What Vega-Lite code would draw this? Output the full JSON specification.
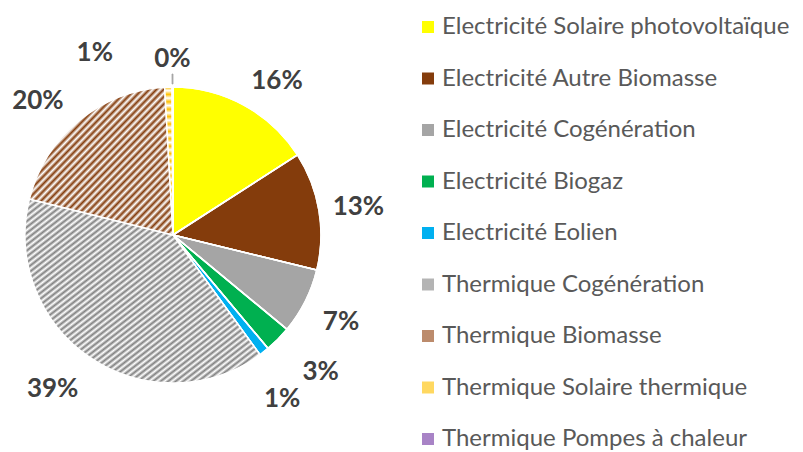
{
  "$schema": "https://vega.github.io/schema/vega-lite/v6.json",
  "width": 346,
  "height": 470,
  "autosize": {"type": "none"},
  "padding": {"left": 0, "top": 0, "right": 457, "bottom": 0},
  "background": "white",
  "view": {"stroke": null},
  "config": {
    "legend": {
      "orient": "none",
      "legendX": 416,
      "legendY": 15,
      "padding": 0,
      "symbolType": "square",
      "symbolSize": 144,
      "symbolStrokeWidth": 0,
      "labelFont": "Lato",
      "labelFontSize": 24,
      "labelColor": "#595959",
      "labelOffset": 2,
      "labelLimit": 500,
      "rowPadding": 27.5
    }
  },
  "data": {
    "values": [
      {"cat": "Electricité Solaire photovoltaïque", "value": 15.9, "label": "16%", "order": 1},
      {"cat": "Electricité Autre Biomasse", "value": 12.9, "label": "13%", "order": 2},
      {"cat": "Electricité Cogénération", "value": 7.2, "label": "7%", "order": 3},
      {"cat": "Electricité Biogaz", "value": 2.9, "label": "3%", "order": 4},
      {"cat": "Electricité Eolien", "value": 1.1, "label": "1%", "order": 5},
      {"cat": "Thermique Cogénération", "value": 38.9, "label": "39%", "order": 6},
      {"cat": "Thermique Biomasse", "value": 20.2, "label": "20%", "order": 7},
      {"cat": "Thermique Solaire thermique", "value": 0.8, "label": "1%", "order": 8},
      {"cat": "Thermique Pompes à chaleur", "value": 0.1, "label": "0%", "order": 9}
    ]
  },
  "encoding": {
    "theta": {"field": "value", "type": "quantitative", "stack": true},
    "order": {"field": "order", "type": "quantitative"}
  },
  "layer": [
    {
      "mark": {"type": "arc", "outerRadius": 148, "stroke": "white", "strokeWidth": 1.5},
      "encoding": {
        "color": {
          "field": "cat",
          "type": "nominal",
          "title": null,
          "scale": {
            "domain": ["Electricité Solaire photovoltaïque", "Electricité Autre Biomasse", "Electricité Cogénération", "Electricité Biogaz", "Electricité Eolien", "Thermique Cogénération", "Thermique Biomasse", "Thermique Solaire thermique", "Thermique Pompes à chaleur"],
            "range": ["#FFFF00", "#843C0C", "#A5A5A5", "#00B050", "#00B0F0", "#B4B4B4", "#BC8B6C", "#FFD860", "#A883C6"]
          }
        }
      }
    },
    {
      "mark": {"type": "arc", "outerRadius": 148, "stroke": "white", "strokeWidth": 1.5},
      "encoding": {
        "fill": {
          "condition": [
            {"test": "datum.order == 6", "value": {"gradient": "linear", "x1": 0, "y1": 0, "x2": 1, "y2": 1, "stops": [
                {"offset": 0, "color": "#808080"}, {"offset": 0.008, "color": "#ffffff"}, {"offset": 0.016, "color": "#808080"}, {"offset": 0.024, "color": "#ffffff"}, {"offset": 0.032, "color": "#808080"}, {"offset": 0.04, "color": "#ffffff"}, {"offset": 0.048, "color": "#808080"}, {"offset": 0.056, "color": "#ffffff"}, {"offset": 0.064, "color": "#808080"}, {"offset": 0.072, "color": "#ffffff"},
                {"offset": 0.08, "color": "#808080"}, {"offset": 0.088, "color": "#ffffff"}, {"offset": 0.096, "color": "#808080"}, {"offset": 0.104, "color": "#ffffff"}, {"offset": 0.112, "color": "#808080"}, {"offset": 0.12, "color": "#ffffff"}, {"offset": 0.128, "color": "#808080"}, {"offset": 0.136, "color": "#ffffff"}, {"offset": 0.144, "color": "#808080"}, {"offset": 0.152, "color": "#ffffff"},
                {"offset": 0.16, "color": "#808080"}, {"offset": 0.168, "color": "#ffffff"}, {"offset": 0.176, "color": "#808080"}, {"offset": 0.184, "color": "#ffffff"}, {"offset": 0.192, "color": "#808080"}, {"offset": 0.2, "color": "#ffffff"}, {"offset": 0.208, "color": "#808080"}, {"offset": 0.216, "color": "#ffffff"}, {"offset": 0.224, "color": "#808080"}, {"offset": 0.232, "color": "#ffffff"},
                {"offset": 0.24, "color": "#808080"}, {"offset": 0.248, "color": "#ffffff"}, {"offset": 0.256, "color": "#808080"}, {"offset": 0.264, "color": "#ffffff"}, {"offset": 0.272, "color": "#808080"}, {"offset": 0.28, "color": "#ffffff"}, {"offset": 0.288, "color": "#808080"}, {"offset": 0.296, "color": "#ffffff"}, {"offset": 0.304, "color": "#808080"}, {"offset": 0.312, "color": "#ffffff"},
                {"offset": 0.32, "color": "#808080"}, {"offset": 0.328, "color": "#ffffff"}, {"offset": 0.336, "color": "#808080"}, {"offset": 0.344, "color": "#ffffff"}, {"offset": 0.352, "color": "#808080"}, {"offset": 0.36, "color": "#ffffff"}, {"offset": 0.368, "color": "#808080"}, {"offset": 0.376, "color": "#ffffff"}, {"offset": 0.384, "color": "#808080"}, {"offset": 0.392, "color": "#ffffff"},
                {"offset": 0.4, "color": "#808080"}, {"offset": 0.408, "color": "#ffffff"}, {"offset": 0.416, "color": "#808080"}, {"offset": 0.424, "color": "#ffffff"}, {"offset": 0.432, "color": "#808080"}, {"offset": 0.44, "color": "#ffffff"}, {"offset": 0.448, "color": "#808080"}, {"offset": 0.456, "color": "#ffffff"}, {"offset": 0.464, "color": "#808080"}, {"offset": 0.472, "color": "#ffffff"},
                {"offset": 0.48, "color": "#808080"}, {"offset": 0.488, "color": "#ffffff"}, {"offset": 0.496, "color": "#808080"}, {"offset": 0.504, "color": "#ffffff"}, {"offset": 0.512, "color": "#808080"}, {"offset": 0.52, "color": "#ffffff"}, {"offset": 0.528, "color": "#808080"}, {"offset": 0.536, "color": "#ffffff"}, {"offset": 0.544, "color": "#808080"}, {"offset": 0.552, "color": "#ffffff"},
                {"offset": 0.56, "color": "#808080"}, {"offset": 0.568, "color": "#ffffff"}, {"offset": 0.576, "color": "#808080"}, {"offset": 0.584, "color": "#ffffff"}, {"offset": 0.592, "color": "#808080"}, {"offset": 0.6, "color": "#ffffff"}, {"offset": 0.608, "color": "#808080"}, {"offset": 0.616, "color": "#ffffff"}, {"offset": 0.624, "color": "#808080"}, {"offset": 0.632, "color": "#ffffff"},
                {"offset": 0.64, "color": "#808080"}, {"offset": 0.648, "color": "#ffffff"}, {"offset": 0.656, "color": "#808080"}, {"offset": 0.664, "color": "#ffffff"}, {"offset": 0.672, "color": "#808080"}, {"offset": 0.68, "color": "#ffffff"}, {"offset": 0.688, "color": "#808080"}, {"offset": 0.696, "color": "#ffffff"}, {"offset": 0.704, "color": "#808080"}, {"offset": 0.712, "color": "#ffffff"},
                {"offset": 0.72, "color": "#808080"}, {"offset": 0.728, "color": "#ffffff"}, {"offset": 0.736, "color": "#808080"}, {"offset": 0.744, "color": "#ffffff"}, {"offset": 0.752, "color": "#808080"}, {"offset": 0.76, "color": "#ffffff"}, {"offset": 0.768, "color": "#808080"}, {"offset": 0.776, "color": "#ffffff"}, {"offset": 0.784, "color": "#808080"}, {"offset": 0.792, "color": "#ffffff"},
                {"offset": 0.8, "color": "#808080"}, {"offset": 0.808, "color": "#ffffff"}, {"offset": 0.816, "color": "#808080"}, {"offset": 0.824, "color": "#ffffff"}, {"offset": 0.832, "color": "#808080"}, {"offset": 0.84, "color": "#ffffff"}, {"offset": 0.848, "color": "#808080"}, {"offset": 0.856, "color": "#ffffff"}, {"offset": 0.864, "color": "#808080"}, {"offset": 0.872, "color": "#ffffff"},
                {"offset": 0.88, "color": "#808080"}, {"offset": 0.888, "color": "#ffffff"}, {"offset": 0.896, "color": "#808080"}, {"offset": 0.904, "color": "#ffffff"}, {"offset": 0.912, "color": "#808080"}, {"offset": 0.92, "color": "#ffffff"}, {"offset": 0.928, "color": "#808080"}, {"offset": 0.936, "color": "#ffffff"}, {"offset": 0.944, "color": "#808080"}, {"offset": 0.952, "color": "#ffffff"},
                {"offset": 0.96, "color": "#808080"}, {"offset": 0.968, "color": "#ffffff"}, {"offset": 0.976, "color": "#808080"}, {"offset": 0.984, "color": "#ffffff"}, {"offset": 0.992, "color": "#808080"}, {"offset": 1, "color": "#ffffff"}
              ]}},
            {"test": "datum.order == 7", "value": {"gradient": "linear", "x1": 0, "y1": 0, "x2": 1, "y2": 1, "stops": [
                {"offset": 0, "color": "#843C0C"}, {"offset": 0.0125, "color": "#ffffff"}, {"offset": 0.025, "color": "#843C0C"}, {"offset": 0.0375, "color": "#ffffff"}, {"offset": 0.05, "color": "#843C0C"}, {"offset": 0.0625, "color": "#ffffff"}, {"offset": 0.075, "color": "#843C0C"}, {"offset": 0.0875, "color": "#ffffff"},
                {"offset": 0.1, "color": "#843C0C"}, {"offset": 0.1125, "color": "#ffffff"}, {"offset": 0.125, "color": "#843C0C"}, {"offset": 0.1375, "color": "#ffffff"}, {"offset": 0.15, "color": "#843C0C"}, {"offset": 0.1625, "color": "#ffffff"}, {"offset": 0.175, "color": "#843C0C"}, {"offset": 0.1875, "color": "#ffffff"},
                {"offset": 0.2, "color": "#843C0C"}, {"offset": 0.2125, "color": "#ffffff"}, {"offset": 0.225, "color": "#843C0C"}, {"offset": 0.2375, "color": "#ffffff"}, {"offset": 0.25, "color": "#843C0C"}, {"offset": 0.2625, "color": "#ffffff"}, {"offset": 0.275, "color": "#843C0C"}, {"offset": 0.2875, "color": "#ffffff"},
                {"offset": 0.3, "color": "#843C0C"}, {"offset": 0.3125, "color": "#ffffff"}, {"offset": 0.325, "color": "#843C0C"}, {"offset": 0.3375, "color": "#ffffff"}, {"offset": 0.35, "color": "#843C0C"}, {"offset": 0.3625, "color": "#ffffff"}, {"offset": 0.375, "color": "#843C0C"}, {"offset": 0.3875, "color": "#ffffff"},
                {"offset": 0.4, "color": "#843C0C"}, {"offset": 0.4125, "color": "#ffffff"}, {"offset": 0.425, "color": "#843C0C"}, {"offset": 0.4375, "color": "#ffffff"}, {"offset": 0.45, "color": "#843C0C"}, {"offset": 0.4625, "color": "#ffffff"}, {"offset": 0.475, "color": "#843C0C"}, {"offset": 0.4875, "color": "#ffffff"},
                {"offset": 0.5, "color": "#843C0C"}, {"offset": 0.5125, "color": "#ffffff"}, {"offset": 0.525, "color": "#843C0C"}, {"offset": 0.5375, "color": "#ffffff"}, {"offset": 0.55, "color": "#843C0C"}, {"offset": 0.5625, "color": "#ffffff"}, {"offset": 0.575, "color": "#843C0C"}, {"offset": 0.5875, "color": "#ffffff"},
                {"offset": 0.6, "color": "#843C0C"}, {"offset": 0.6125, "color": "#ffffff"}, {"offset": 0.625, "color": "#843C0C"}, {"offset": 0.6375, "color": "#ffffff"}, {"offset": 0.65, "color": "#843C0C"}, {"offset": 0.6625, "color": "#ffffff"}, {"offset": 0.675, "color": "#843C0C"}, {"offset": 0.6875, "color": "#ffffff"},
                {"offset": 0.7, "color": "#843C0C"}, {"offset": 0.7125, "color": "#ffffff"}, {"offset": 0.725, "color": "#843C0C"}, {"offset": 0.7375, "color": "#ffffff"}, {"offset": 0.75, "color": "#843C0C"}, {"offset": 0.7625, "color": "#ffffff"}, {"offset": 0.775, "color": "#843C0C"}, {"offset": 0.7875, "color": "#ffffff"},
                {"offset": 0.8, "color": "#843C0C"}, {"offset": 0.8125, "color": "#ffffff"}, {"offset": 0.825, "color": "#843C0C"}, {"offset": 0.8375, "color": "#ffffff"}, {"offset": 0.85, "color": "#843C0C"}, {"offset": 0.8625, "color": "#ffffff"}, {"offset": 0.875, "color": "#843C0C"}, {"offset": 0.8875, "color": "#ffffff"},
                {"offset": 0.9, "color": "#843C0C"}, {"offset": 0.9125, "color": "#ffffff"}, {"offset": 0.925, "color": "#843C0C"}, {"offset": 0.9375, "color": "#ffffff"}, {"offset": 0.95, "color": "#843C0C"}, {"offset": 0.9625, "color": "#ffffff"}, {"offset": 0.975, "color": "#843C0C"}, {"offset": 0.9875, "color": "#ffffff"},
                {"offset": 1, "color": "#843C0C"}
              ]}},
            {"test": "datum.order == 8", "value": {"gradient": "linear", "x1": 0, "y1": 0, "x2": 0, "y2": 1, "stops": [
                {"offset": 0, "color": "#FFC000"}, {"offset": 0.025, "color": "#ffffff"}, {"offset": 0.05, "color": "#FFC000"}, {"offset": 0.075, "color": "#ffffff"}, {"offset": 0.1, "color": "#FFC000"}, {"offset": 0.125, "color": "#ffffff"}, {"offset": 0.15, "color": "#FFC000"}, {"offset": 0.175, "color": "#ffffff"},
                {"offset": 0.2, "color": "#FFC000"}, {"offset": 0.225, "color": "#ffffff"}, {"offset": 0.25, "color": "#FFC000"}, {"offset": 0.275, "color": "#ffffff"}, {"offset": 0.3, "color": "#FFC000"}, {"offset": 0.325, "color": "#ffffff"}, {"offset": 0.35, "color": "#FFC000"}, {"offset": 0.375, "color": "#ffffff"},
                {"offset": 0.4, "color": "#FFC000"}, {"offset": 0.425, "color": "#ffffff"}, {"offset": 0.45, "color": "#FFC000"}, {"offset": 0.475, "color": "#ffffff"}, {"offset": 0.5, "color": "#FFC000"}, {"offset": 0.525, "color": "#ffffff"}, {"offset": 0.55, "color": "#FFC000"}, {"offset": 0.575, "color": "#ffffff"},
                {"offset": 0.6, "color": "#FFC000"}, {"offset": 0.625, "color": "#ffffff"}, {"offset": 0.65, "color": "#FFC000"}, {"offset": 0.675, "color": "#ffffff"}, {"offset": 0.7, "color": "#FFC000"}, {"offset": 0.725, "color": "#ffffff"}, {"offset": 0.75, "color": "#FFC000"}, {"offset": 0.775, "color": "#ffffff"},
                {"offset": 0.8, "color": "#FFC000"}, {"offset": 0.825, "color": "#ffffff"}, {"offset": 0.85, "color": "#FFC000"}, {"offset": 0.875, "color": "#ffffff"}, {"offset": 0.9, "color": "#FFC000"}, {"offset": 0.925, "color": "#ffffff"}, {"offset": 0.95, "color": "#FFC000"}, {"offset": 0.975, "color": "#ffffff"},
                {"offset": 1, "color": "#FFC000"}
              ]}},
            {"test": "datum.order == 9", "value": {"gradient": "linear", "x1": 0, "y1": 0, "x2": 1, "y2": 1, "stops": [
                {"offset": 0, "color": "#7030A0"}, {"offset": 0.125, "color": "#ffffff"}, {"offset": 0.25, "color": "#7030A0"}, {"offset": 0.375, "color": "#ffffff"}, {"offset": 0.5, "color": "#7030A0"}, {"offset": 0.625, "color": "#ffffff"}, {"offset": 0.75, "color": "#7030A0"}, {"offset": 0.875, "color": "#ffffff"}, {"offset": 1, "color": "#7030A0"}
              ]}}
          ],
          "value": "transparent"
        }
      }
    },
    {
      "mark": {"type": "arc", "innerRadius": 151, "outerRadius": 161, "fill": "#A6A6A6", "stroke": "#A6A6A6", "strokeWidth": 0.8},
      "encoding": {
        "opacity": {"condition": {"test": "datum.order == 9", "value": 1}, "value": 0}
      }
    },
    {
      "mark": {"type": "text", "radius": 190, "dx": 13, "dy": 13, "font": "Lato", "fontSize": 26, "fontWeight": "bold", "fill": "#404040"},
      "encoding": {
        "text": {"condition": {"test": "datum.order == 1", "field": "label"}, "value": ""}
      }
    },
    {
      "mark": {"type": "text", "radius": 188, "dy": 3, "font": "Lato", "fontSize": 26, "fontWeight": "bold", "fill": "#404040"},
      "encoding": {
        "text": {"condition": {"test": "datum.order == 2 || datum.order == 3", "field": "label"}, "value": ""}
      }
    },
    {
      "mark": {"type": "text", "radius": 190, "dx": -14, "dy": -3, "font": "Lato", "fontSize": 26, "fontWeight": "bold", "fill": "#404040"},
      "encoding": {
        "text": {"condition": {"test": "datum.order == 6", "field": "label"}, "value": ""}
      }
    },
    {
      "mark": {"type": "text", "radius": 190, "dx": -14, "dy": 12, "font": "Lato", "fontSize": 26, "fontWeight": "bold", "fill": "#404040"},
      "encoding": {
        "text": {"condition": {"test": "datum.order == 7", "field": "label"}, "value": ""}
      }
    },
    {
      "mark": {"type": "text", "radius": 204, "dx": 3, "dy": -7, "font": "Lato", "fontSize": 26, "fontWeight": "bold", "fill": "#404040"},
      "encoding": {
        "text": {"condition": {"test": "datum.order == 4", "field": "label"}, "value": ""}
      }
    },
    {
      "mark": {"type": "text", "radius": 200, "dx": -14, "dy": 6, "font": "Lato", "fontSize": 26, "fontWeight": "bold", "fill": "#404040"},
      "encoding": {
        "text": {"condition": {"test": "datum.order == 5", "field": "label"}, "value": ""}
      }
    },
    {
      "mark": {"type": "text", "radius": 198, "dx": -72, "dy": 16, "font": "Lato", "fontSize": 26, "fontWeight": "bold", "fill": "#404040"},
      "encoding": {
        "text": {"condition": {"test": "datum.order == 8", "field": "label"}, "value": ""}
      }
    },
    {
      "mark": {"type": "text", "radius": 176, "font": "Lato", "fontSize": 26, "fontWeight": "bold", "fill": "#404040"},
      "encoding": {
        "text": {"condition": {"test": "datum.order == 9", "field": "label"}, "value": ""}
      }
    }
  ]
}
